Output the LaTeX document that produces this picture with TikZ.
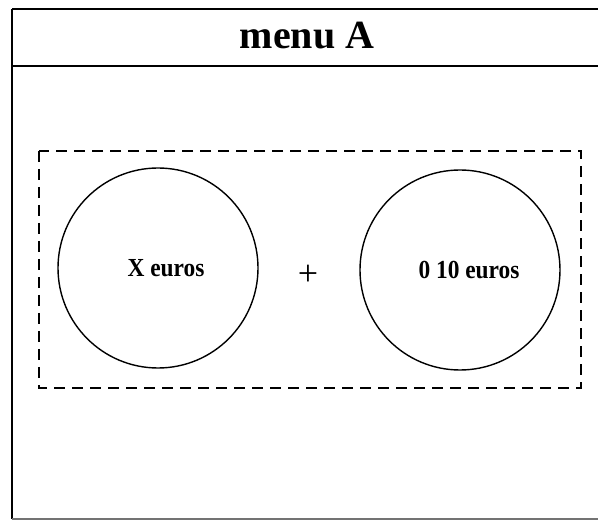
\documentclass[tikz,border=0pt]{standalone}
\usepackage{fontspec}
\setmainfont{Liberation Serif}
\begin{document}
\begin{tikzpicture}[x=1pt,y=-1pt,
  frame/.style={line width=2pt,black},
  coin/.style={circle,draw,line width=1.4pt,minimum size=200pt,inner sep=0pt},
  group/.style={draw,line width=1.4pt,dash pattern=on 11pt off 7pt},
  lbl/.style={font=\fontsize{26}{26}\selectfont\bfseries,xscale=0.9}]
\useasboundingbox (0,0) rectangle (598,521);
\clip (0,0) rectangle (598,521);
\draw[frame] (12,9) -- (600,9);
\draw[frame] (12,9) -- (12,519);
\draw[frame] (12,66) -- (600,66);
\draw[line width=1.5pt,black!55] (12,519) -- (600,519);
\node (title) at (307,36) {\fontsize{40}{40}\selectfont\bfseries menu A};
\draw[group] (39,151) rectangle (581,388);
\node[coin] (c1) at (158,268) {};
\node[coin] (c2) at (460,270) {};
\node[lbl] (t1) at ([xshift=8pt]c1.center) {X euros};
\node[lbl] (t2) at ([xshift=9pt]c2.center) {0 10 euros};
\node (plus) at (308,275) {\fontsize{36}{36}\selectfont +};
\end{tikzpicture}
\end{document}
